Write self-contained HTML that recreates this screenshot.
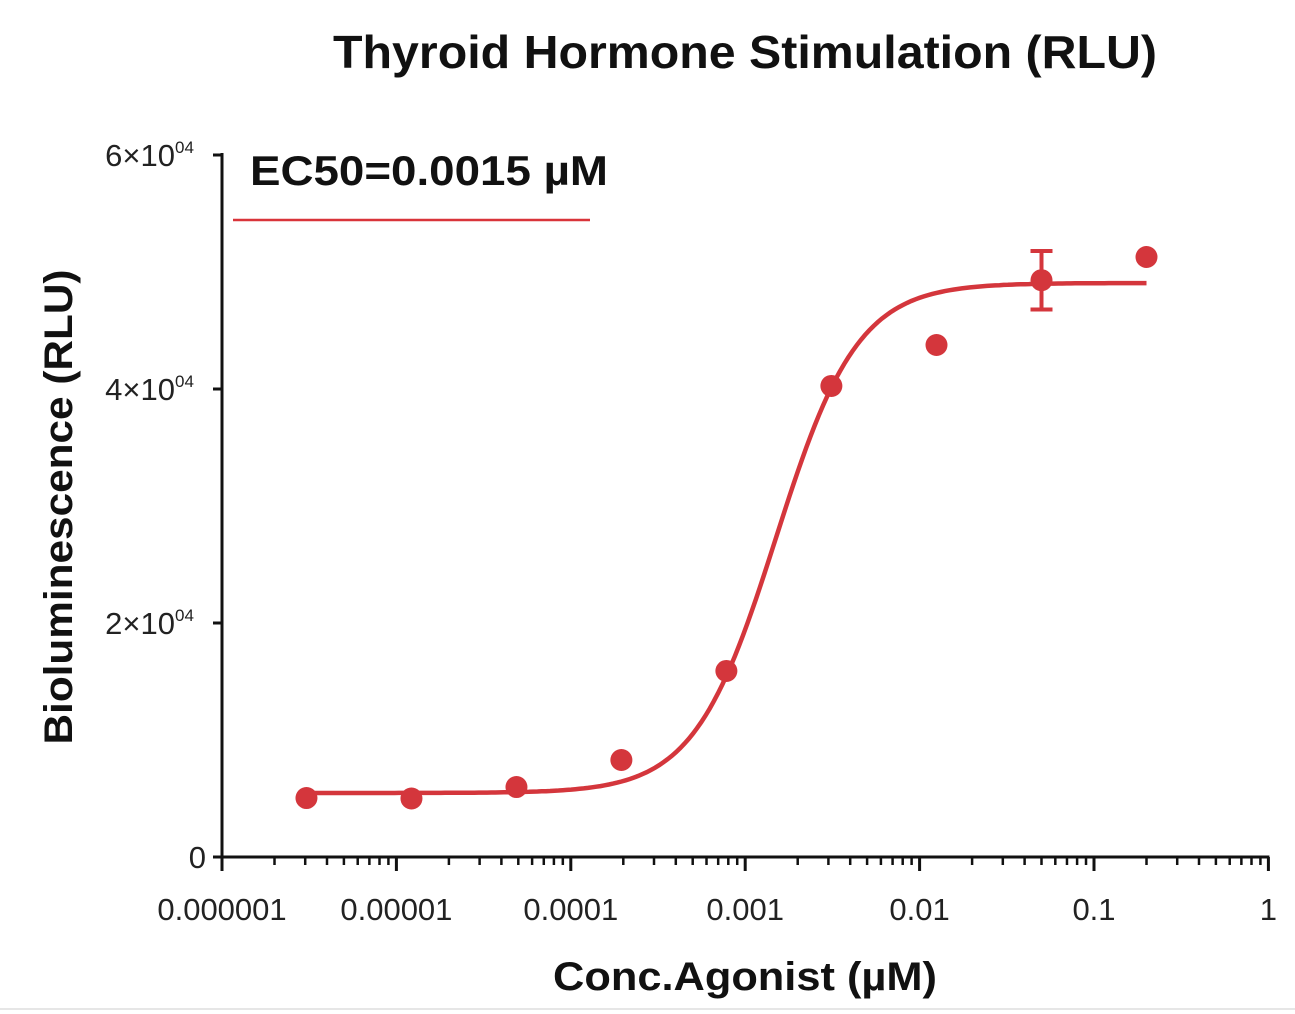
<!DOCTYPE html>
<html><head><meta charset="utf-8"><style>
html,body{margin:0;padding:0;background:#fff;}
svg{display:block;font-family:"Liberation Sans",sans-serif;}
</style></head><body>
<svg id="chart" width="1295" height="1014" viewBox="0 0 1295 1014">
<text x="745" y="68" text-anchor="middle" font-size="46" font-weight="bold" fill="#111" textLength="824" lengthAdjust="spacingAndGlyphs">Thyroid Hormone Stimulation (RLU)</text>
<text x="250" y="185" font-size="42" font-weight="bold" fill="#111" textLength="358" lengthAdjust="spacingAndGlyphs">EC50=0.0015 µM</text>
<line x1="233" y1="220" x2="590" y2="220" stroke="#d9343a" stroke-width="2.5"/>
<text transform="translate(72,507) rotate(-90)" text-anchor="middle" font-size="40" font-weight="bold" fill="#111" textLength="475" lengthAdjust="spacingAndGlyphs">Bioluminescence (RLU)</text>
<text x="745" y="990" text-anchor="middle" font-size="40" font-weight="bold" fill="#111" textLength="384" lengthAdjust="spacingAndGlyphs">Conc.Agonist (µM)</text>
<line x1="0" y1="1009" x2="1295" y2="1009" stroke="#ccc" stroke-width="1"/>
<g id="axes"></g>
<g id="marks"></g>
</svg>
<script>
const xTicks = [1e-6,1e-5,1e-4,1e-3,1e-2,1e-1,1];
const xTickLabels = ["0.000001","0.00001","0.0001","0.001","0.01","0.1","1"];
const yTicks = [0,20000,40000,60000];
const yTickLabels = ["0","2×10","4×10","6×10"];
const concentrations = [3.05e-6,1.22e-5,4.88e-5,1.95e-4,7.8e-4,3.12e-3,1.25e-2,5e-2,2e-1];
const responses = [5040,5000,5980,8290,15900,40260,43760,49300,51280];
const errors = [0,0,0,0,0,0,0,2500,0];
const fitBottom = 5470, fitTop = 49060, fitEC50 = 0.0015, fitHill = 1.85;

const NS="http://www.w3.org/2000/svg";
const X0=222, DEC=174.4, Y0=857, YS=234/20000;
const xs = v => X0 + (Math.log10(v)+6)*DEC;
const ys = v => Y0 - v*YS;
function mk(tag, attrs, parent){const e=document.createElementNS(NS,tag);for(const k in attrs)e.setAttribute(k,attrs[k]);parent.appendChild(e);return e;}
const axes=document.getElementById('axes'), marks=document.getElementById('marks');
const red="#d4363c";

let ax=mk('line',{x1:X0,y1:ys(60000)-2,x2:X0,y2:Y0+1,stroke:'#111','stroke-width':3},axes);


let bx=mk('line',{x1:X0-1,y1:Y0,x2:xs(1)+1,y2:Y0,stroke:'#111','stroke-width':3},axes);



yTicks.forEach((v,i)=>{
  const y=ys(v);
  mk('line',{x1:X0-9,y1:y,x2:X0,y2:y,stroke:'#111','stroke-width':3},axes);
  const t=mk('text',{x:v===0?X0-16:X0-47,y:y+11,'text-anchor':'end','font-size':31,fill:'#222'},axes);
  
  
  t.textContent=yTickLabels[i];
  if(v!==0){
    const s=mk('text',{x:X0-47,y:y-2,'font-size':17,fill:'#222'},axes);
    
    
    s.textContent='04';
  }
});
xTicks.forEach((v,i)=>{
  const x=xs(v);
  mk('line',{x1:x,y1:Y0,x2:x,y2:Y0+14,stroke:'#111','stroke-width':3},axes);
  const t=mk('text',{x:x,y:Y0+63,'text-anchor':'middle','font-size':31,fill:'#222'},axes);
  
  
  t.textContent=xTickLabels[i];
  if(i<xTicks.length-1){for(let m=2;m<=9;m++){const mx=xs(v*m);mk('line',{x1:mx,y1:Y0,x2:mx,y2:Y0+8,stroke:'#111','stroke-width':2.5},axes);}}
});

const fit=c=>fitBottom+(fitTop-fitBottom)/(1+Math.pow(fitEC50/c,fitHill));
let d='';const lo=Math.log10(concentrations[0]),hi=Math.log10(concentrations[concentrations.length-1]);
for(let k=0;k<=200;k++){const lc=lo+(hi-lo)*k/200,c=Math.pow(10,lc);d+=(k?'L':'M')+xs(c).toFixed(1)+','+ys(fit(c)).toFixed(1);}
const curve=mk('path',{d:d,fill:'none',stroke:red,'stroke-width':4.5},marks);



concentrations.forEach((c,i)=>{
  const x=xs(c),y=ys(responses[i]);
  if(errors[i]>0){
    const e=errors[i];
    mk('line',{x1:x,y1:ys(responses[i]+e),x2:x,y2:ys(responses[i]-e),stroke:red,'stroke-width':4},marks);
    mk('line',{x1:x-11,y1:ys(responses[i]+e),x2:x+11,y2:ys(responses[i]+e),stroke:red,'stroke-width':4},marks);
    mk('line',{x1:x-11,y1:ys(responses[i]-e),x2:x+11,y2:ys(responses[i]-e),stroke:red,'stroke-width':4},marks);
  }
  const p=mk('circle',{cx:x,cy:y,r:11,fill:red},marks);
  
  
});
</script>
</body></html>
